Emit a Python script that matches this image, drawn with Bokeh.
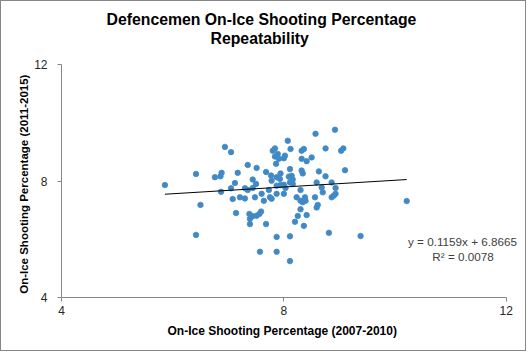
from bokeh.plotting import figure
from bokeh.models import Range1d, FixedTicker, Label, ColumnDataSource, Title
from bokeh.embed import file_html
from bokeh.resources import INLINE

# On-ice shooting percentage, 2007-2010 (x) vs 2011-2015 (y)
sh_pct_2007_2010 = [
    5.86, 6.42, 6.50, 6.42, 6.94, 7.05, 6.76, 6.86, 6.88, 7.17,
    6.87, 7.05, 7.12, 7.08, 7.14, 7.21, 7.30, 7.30, 7.35, 7.35,
    7.38, 7.39, 7.39, 7.44, 7.44, 7.44, 7.48, 7.50, 7.51, 7.51,
    7.56, 7.59, 7.57, 7.60, 7.64, 7.68, 7.68, 7.73, 7.75, 7.77,
    7.78, 7.78, 7.80, 7.84, 7.84, 7.86, 7.87, 7.87, 7.87, 7.87,
    7.87, 7.89, 7.91, 7.93, 7.94, 7.94, 8.00, 8.02, 8.00, 8.00,
    8.03, 8.07, 8.09, 8.11, 8.12, 8.11, 8.11, 8.11, 8.14, 8.16,
    8.16, 8.20, 8.23, 8.25, 8.30, 8.30, 8.30, 8.32, 8.32, 8.36,
    8.32, 8.34, 8.34, 8.36, 8.38, 8.39, 8.41, 8.41, 8.50, 8.56,
    8.57, 8.59, 8.59, 8.61, 8.63, 8.68, 8.70, 8.75, 8.75, 8.81,
    8.86, 8.86, 8.90, 8.92, 8.93, 8.93, 9.03, 9.07, 9.10, 9.38,
    10.21,
]
sh_pct_2011_2015 = [
    7.86, 8.24, 7.18, 6.15, 9.17, 8.99, 8.13, 8.16, 8.28, 8.28,
    7.63, 7.75, 7.93, 7.38, 6.90, 7.44, 7.75, 7.40, 8.55, 7.69,
    6.87, 6.70, 6.52, 8.05, 7.76, 6.79, 7.44, 7.90, 8.45, 6.81,
    6.87, 6.95, 5.57, 7.56, 7.32, 8.31, 6.52, 7.69, 7.44, 8.19,
    8.01, 7.39, 9.04, 9.12, 8.84, 8.59, 8.13, 7.84, 7.56, 6.08,
    5.57, 8.93, 8.76, 8.07, 8.26, 7.86, 8.78, 8.87, 7.87, 7.56,
    7.76, 9.38, 8.15, 8.41, 9.10, 7.95, 6.10, 5.25, 8.18, 8.05,
    7.90, 6.60, 7.44, 6.80, 7.69, 7.32, 7.03, 8.36, 9.04, 9.10,
    8.76, 8.26, 7.27, 6.46, 7.44, 7.32, 8.68, 6.83, 8.81, 7.44,
    9.62, 7.95, 7.09, 7.18, 8.33, 7.78, 7.61, 9.12, 8.16, 6.22,
    7.95, 7.44, 7.50, 9.76, 7.76, 7.56, 9.04, 9.12, 8.37, 6.11,
    7.31,
]

trend_slope = 0.1159
trend_intercept = 6.8665
trend_r2 = 0.0078

axis_min, axis_max = 4, 12
axis_ticks = [4, 8, 12]
title_lines = ["Defencemen On-Ice  Shooting Percentage", "Repeatability"]
x_label = "On-Ice  Shooting  Percentage (2007-2010)"
y_label = "On-Ice  Shooting  Percentage (2011-2015)"

FONT = "Liberation Sans"
AXIS_GREY = "#868686"
TEXT = "#262626"

# frame extends to the right of x=12 so the equation text is not clipped
p = figure(
    width=526, height=351, title=None,
    x_range=Range1d(4, 12.293), y_range=Range1d(4, 12),
    min_border_left=60, min_border_right=5,
    min_border_top=63, min_border_bottom=55,
    output_backend="svg", toolbar_location=None,
    background_fill_color="white", border_fill_color="white",
)
p.styles = {"border": "1px solid #868686"}
p.outline_line_color = None
p.xgrid.visible = False
p.ygrid.visible = False

for ax in (p.xaxis[0], p.yaxis[0]):
    ax.bounds = (axis_min, axis_max)
    ax.ticker = FixedTicker(ticks=axis_ticks)
    ax.axis_line_color = AXIS_GREY
    ax.major_tick_line_color = AXIS_GREY
    ax.major_tick_out = 4
    ax.major_tick_in = 0
    ax.minor_tick_line_color = None
    ax.major_label_text_font = FONT
    ax.major_label_text_font_size = "12px"
    ax.major_label_text_color = TEXT
    ax.axis_label_text_font = FONT
    ax.axis_label_text_font_size = "11.5px"
    ax.axis_label_text_font_style = "bold"
    ax.axis_label_text_color = "#000000"

p.yaxis.axis_label = y_label
p.xaxis.major_label_standoff = 4
p.yaxis.major_label_standoff = 10
p.yaxis.axis_label_standoff = 1

# x-axis title, placed below the axis and aligned under the 4-12 axis line
p.add_layout(Title(text=x_label, align="left", offset=106,
                   text_font=FONT, text_font_size="12px",
                   text_font_style="bold", text_color="black",
                   standoff=9), "below")

src = ColumnDataSource(dict(x=sh_pct_2007_2010, y=sh_pct_2011_2015))
p.scatter("x", "y", source=src, size=5.5, marker="circle",
          fill_color="#4189C5", line_color="#4189C5", line_width=0.8)

x_lo, x_hi = min(sh_pct_2007_2010), max(sh_pct_2007_2010)
trend_x = [x_lo, x_hi]
trend_y = [trend_slope * v + trend_intercept for v in trend_x]
p.line(trend_x, trend_y, line_color="black", line_width=1)

# Title: two lines in the panel above the plot
p.add_layout(Title(text=title_lines[1], align="left", offset=149,
                   text_font=FONT, text_font_size="15.8px",
                   text_font_style="bold", text_color="black",
                   standoff=36), "above")
p.add_layout(Title(text=title_lines[0], align="left", offset=45,
                   text_font=FONT, text_font_size="15.8px",
                   text_font_style="bold", text_color="black",
                   standoff=-36), "above")

# Trendline equation
eq_lines = [f"y = {trend_slope}x + {trend_intercept}", f"R\u00b2 = {trend_r2}"]
for txt, xx, yy in zip(eq_lines, [401, 401.5], [56, 41]):
    p.add_layout(Label(x=xx, y=yy, x_units="screen", y_units="screen",
                       text=txt, text_align="center", text_baseline="middle",
                       text_font=FONT, text_font_size="11.7px",
                       text_color="#404040"))

open("out.html", "w").write(file_html(p, INLINE))
